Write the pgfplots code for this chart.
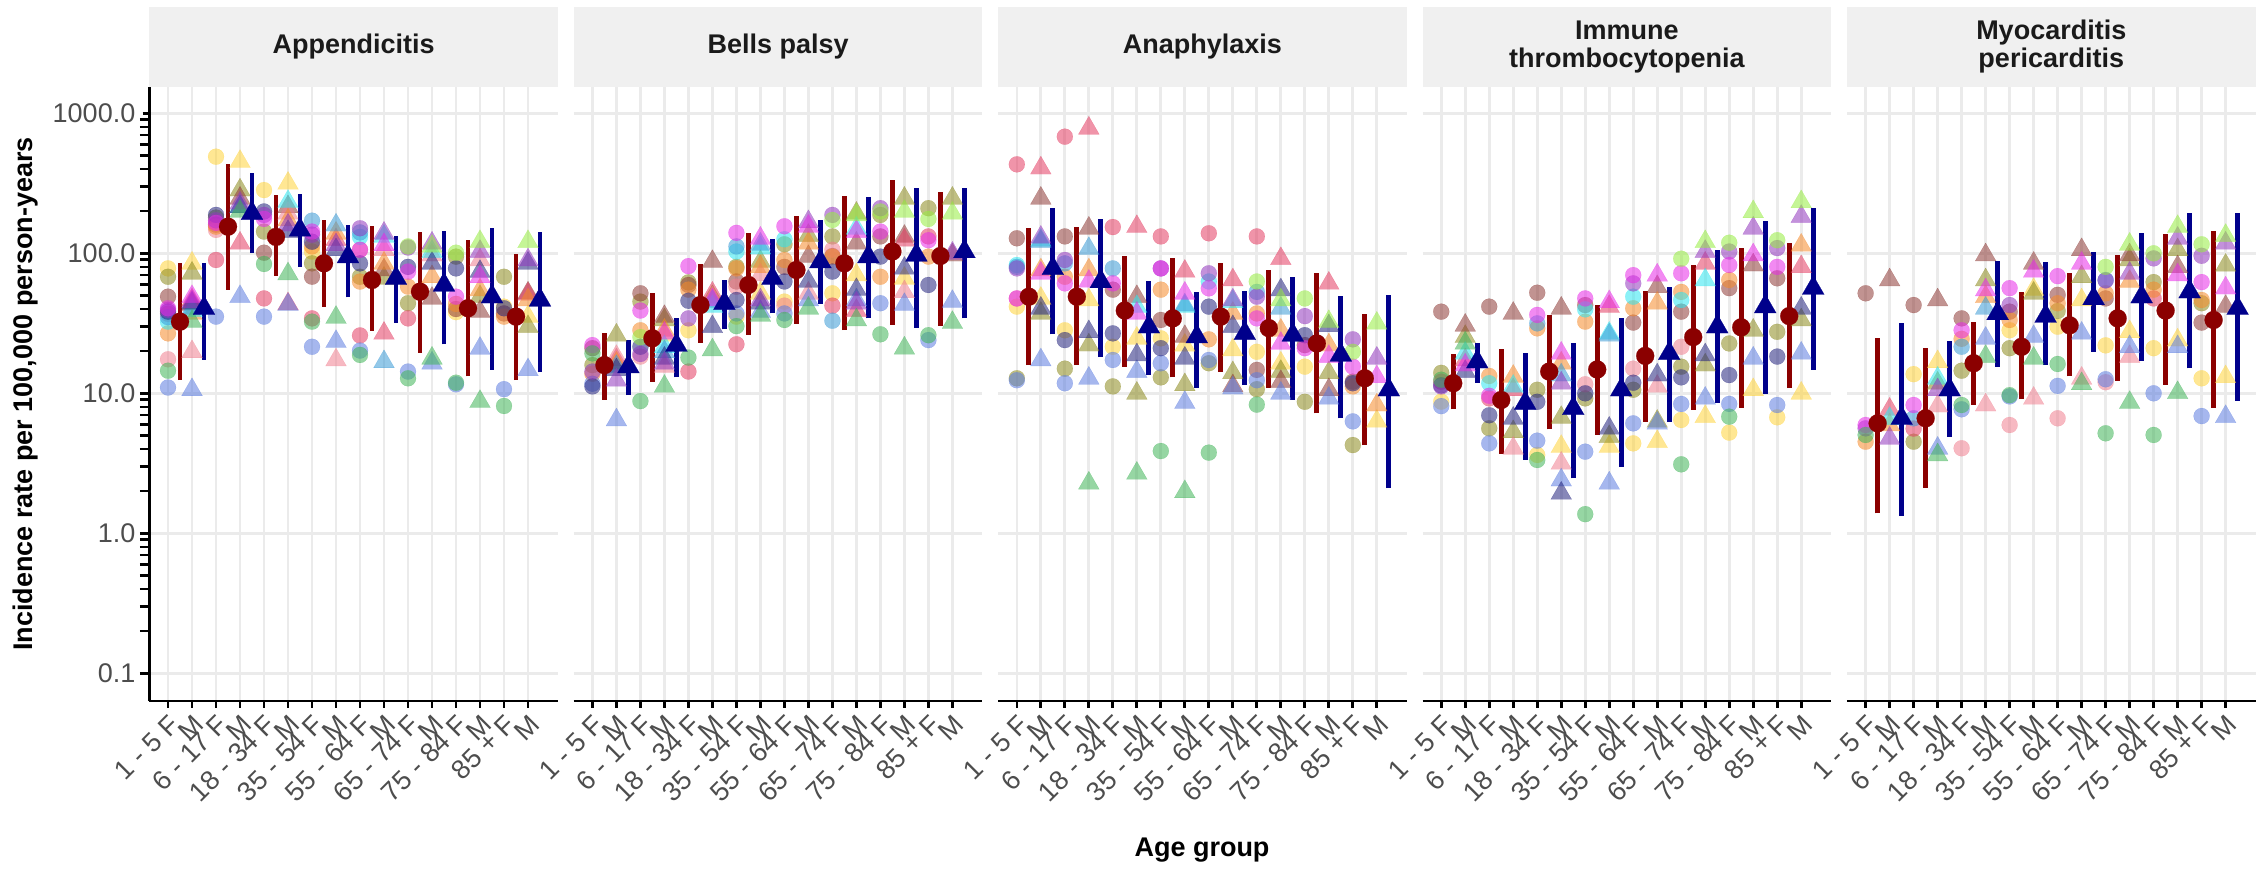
\documentclass[border=0pt]{standalone}
\usepackage{fontspec}
\setmainfont{Liberation Sans}
\usepackage{pgfplots}
\usepackage{pgfplotstable}
\pgfplotsset{compat=1.18}

\definecolor{cY}{HTML}{FFD33A}
\definecolor{cO}{HTML}{8C8A1E}
\definecolor{cB}{HTML}{8E3A36}
\definecolor{cC}{HTML}{E43C62}
\definecolor{cP}{HTML}{F08090}
\definecolor{cR}{HTML}{F58A2A}
\definecolor{cCy}{HTML}{2EE6F0}
\definecolor{cS}{HTML}{3A9AD6}
\definecolor{cK}{HTML}{5C7CE0}
\definecolor{cN}{HTML}{24247E}
\definecolor{cU}{HTML}{9236BE}
\definecolor{cM}{HTML}{E82AE8}
\definecolor{cG}{HTML}{40B458}
\definecolor{cL}{HTML}{96EC40}
\definecolor{gridc}{HTML}{EBEBEB}
\definecolor{stripc}{HTML}{F0F0F0}
\definecolor{tickc}{HTML}{4D4D4D}
\definecolor{striptxt}{HTML}{1A1A1A}
\definecolor{poolF}{HTML}{8B0000}
\definecolor{poolM}{HTML}{00008B}

% ---------- Appendicitis ----------
\pgfplotstableread{
x  Y    O    B    C    P    R    Cy   S    K    N    U    M    G    L
0  78   68   49   37   17.5 26.8 32.5 35   11   38.3 39.4 40.5 14.5 nan
2  490  180  160  89.6 147  155  nan  nan  35.3 188  172  165  nan  nan
4  283  143  101  47.6 nan  nan  nan  nan  35.3 199  188  176  83.9 nan
6  103  84.8 68.1 34.3 nan  112  nan  171  21.5 121  136  143  32.5 nan
8  nan  68   nan  25.9 106  62.8 131  141  20.2 84.8 151  106  18.8 nan
10 nan  44   nan  34.3 nan  57.8 nan  nan  14.3 80   110  74   12.8 112
12 38   94.7 40   nan  nan  43.5 nan  nan  11.6 78   nan  49   11.9 101
14 41.6 68   37.2 nan  nan  35.3 nan  nan  10.7 40.5 nan  nan  8.12 nan
}\tAF
\pgfplotstableread{
x  Y    O    B    C    P    R    Cy   S    K    N    U    M    G    L
1  84.8 72   43   46.4 19.8 37.2 39   40.5 10.6 44   45   49   32.5 nan
3  452  283  247  118  nan  nan  215  nan  49   215  228  nan  199  nan
5  316  nan  215  43.5 193  173  234  nan  43   143  159  nan  71.2 nan
7  nan  nan  nan  125  17.3 139  nan  159  23.4 106  115  nan  34.8 nan
9  nan  66.3 76   26.8 106  84.8 132  16.8 nan  nan  139  115  nan  nan
11 nan  nan  47.6 nan  97   68   103  nan  16.4 84.8 118  nan  17.8 112
13 nan  49   38.3 nan  89.6 54.7 nan  nan  20.9 74   103  68   8.72 121
15 35.3 29.9 52   51   nan  46.4 nan  nan  14.7 84.8 89.6 nan  nan  121
}\tAM
\pgfplotstableread{
xf   yf   xm   ym
0.5  32.5 1.5  40.5
2.5  155  3.5  193
4.5  131  5.5  147
6.5  84.8 7.5  94.7
8.5  64.5 9.5  66.3
10.5 53.2 11.5 59.4
12.5 40.5 13.5 49.0
14.5 35.3 15.5 46.4
}\qA
\pgfplotstableread{
xf   yf   xm   ym
0.5  12.4 1.5  17.3
0.5  84.8 1.5  84.8
nan  nan  nan  nan
2.5  54.7 3.5  101
2.5  435  3.5  377
nan  nan  nan  nan
4.5  68.9 5.5  80.3
4.5  261  5.5  266
nan  nan  nan  nan
6.5  41.6 7.5  48.5
6.5  173  7.5  159
nan  nan  nan  nan
8.5  28.0 9.5  32.0
8.5  157  9.5  133
nan  nan  nan  nan
10.5 19.5 11.5 22.4
10.5 143  11.5 144
nan  nan  nan  nan
12.5 13.2 13.5 14.7
12.5 125  13.5 152
nan  nan  nan  nan
14.5 12.4 15.5 14.1
14.5 98.9 15.5 143
}\sA

% ---------- Bells palsy ----------
\pgfplotstableread{
x  Y    O    B    C    P    R    Cy   S    K    N    U    M    G    L
0  nan  15.9 21   nan  nan  13.8 nan  nan  11.7 11.2 14.3 22.1 19.3 nan
2  nan  45.2 51.8 nan  18.3 28.2 nan  nan  nan  21.5 19.1 39   8.8  25.2
4  28.2 62   59.4 14.3 nan  55   nan  nan  nan  45.8 34.3 81   18   nan
6  35.3 80   62.9 22.4 57.8 78   103  112  37.2 46.4 nan  140  30.2 nan
8  45.2 116  80   nan  42.3 89.6 126  nan  37.2 62.9 nan  156  33.4 nan
10 51.8 132  95.7 42.3 106  94.7 nan  33   nan  74   188  nan  nan  173
12 nan  188  132  nan  nan  68   nan  nan  44   94.7 210  143  26.4 199
14 nan  210  nan  132  nan  94.7 nan  nan  24   59.4 nan  124  26   176
}\tBF
\pgfplotstableread{
x  Y    O    B    C    P    R    Cy   S    K    N    U    M    G    L
1  nan  26   nan  17.3 18.3 16.4 nan  15.5 6.45 14.7 12.4 nan  nan  nan
3  26   33.4 35.3 nan  15.5 28.2 21.5 19.8 nan  17.8 16.4 26.8 11.2 nan
5  nan  49   87.2 51.8 47.7 nan  41.6 45.2 nan  29.9 nan  46.4 20.4 nan
7  51.8 87.2 nan  nan  70   80   109  116  38.3 44   46.4 128  36   nan
9  nan  134  94.7 nan  51.8 118  nan  nan  46.4 62.9 168  156  40.5 nan
11 70   193  118  39   nan  nan  151  nan  46.4 55   44   143  33.4 188
13 66.3 247  132  124  53   nan  nan  nan  43   78   nan  nan  21   199
15 nan  247  97   nan  nan  nan  nan  nan  45.2 nan  100  nan  32   193
}\tBM
\pgfplotstableread{
xf   yf   xm   ym
0.5  15.9 1.5  15.5
2.5  24.7 3.5  22.1
4.5  42.7 5.5  44.0
6.5  59.4 7.5  66.3
8.5  76.0 9.5  87.2
10.5 84.8 11.5 94.7
12.5 103  13.5 97.3
14.5 95.7 15.5 103
}\qB
\pgfplotstableread{
xf   yf   xm   ym
0.5  8.96 1.5  9.72
0.5  26.8 1.5  24.0
nan  nan  nan  nan
2.5  12.1 3.5  13.0
2.5  51.8 3.5  34.3
nan  nan  nan  nan
4.5  23.0 5.5  28.6
4.5  83.9 5.5  64.5
nan  nan  nan  nan
6.5  26.1 7.5  37.3
6.5  139  7.5  126
nan  nan  nan  nan
8.5  31.3 9.5  43.5
8.5  185  9.5  173
nan  nan  nan  nan
10.5 28.3 11.5 34.3
10.5 257  11.5 251
nan  nan  nan  nan
12.5 30.8 13.5 29.4
12.5 334  13.5 291
nan  nan  nan  nan
14.5 30.4 15.5 34.3
14.5 275  15.5 291
}\sB

% ---------- Anaphylaxis ----------
\pgfplotstableread{
x  Y    O    B    C    P    R    Cy   S    K    N    U    M    G    L
0  41.6 12.8 128  432  47.6 nan  82.5 80   12.4 nan  78   47.6 nan  nan
2  28.2 15   132  681  nan  68   nan  84.8 11.8 24   89.6 61   nan  nan
4  21.5 11.2 55   154  nan  nan  nan  78   17.3 26.8 nan  61   nan  nan
6  24.7 13   33.4 132  nan  55   nan  nan  16.4 21   78   78   3.87 nan
8  nan  16.4 nan  139  nan  24.3 62.9 nan  17.3 41.6 72   56.2 3.77 nan
10 19.8 10.7 14.7 132  nan  37.2 nan  53   12.4 nan  49   34.3 8.3  62.9
12 15.5 8.7  22.1 nan  nan  nan  nan  nan  nan  26   35.6 21   nan  47.6
14 nan  4.27 12.1 nan  nan  11.2 nan  nan  6.3  11.8 24.3 15.5 nan  19.8
}\tCF
\pgfplotstableread{
x  Y    O    B    C    P    R    Cy   S    K    N    U    M    G    L
1  47.6 37.2 247  406  nan  76   124  121  17.3 40.5 130  72   nan  nan
3  46.4 22.1 151  782  nan  76   nan  108  12.8 27.5 nan  63   2.28 nan
5  24.7 10   49   155  nan  nan  41.6 nan  14.3 18.8 nan  37.2 2.68 nan
7  22   11.5 25.4 74.3 nan  nan  41.6 42.7 8.58 17.8 nan  51.8 1.98 nan
9  20.4 14   11.3 64.5 nan  37.2 45   nan  10.9 29.9 46.4 nan  nan  nan
11 16.4 14.3 12.1 91.5 nan  28.2 nan  40.5 10   54.7 nan  22.7 nan  46.4
13 nan  14   10.6 61   nan  22.1 nan  nan  9.2  30.3 nan  18.3 nan  32.5
15 6.3  nan  nan  nan  nan  8.25 nan  nan  nan  nan  17.8 13.1 nan  31.6
}\tCM
\pgfplotstableread{
xf   yf   xm   ym
0.5  49.0 1.5  78
2.5  49   3.5  62.9
4.5  39   5.5  29.9
6.5  34.3 7.5  25.4
8.5  35.3 9.5  26.8
10.5 29.2 11.5 26.1
12.5 22.7 13.5 18.8
14.5 12.8 15.5 10.6
}\qC
\pgfplotstableread{
xf   yf   xm   ym
0.5  15.9 1.5  26.4
0.5  151  1.5  210
nan  nan  nan  nan
2.5  15.9 3.5  18.1
2.5  154  3.5  176
nan  nan  nan  nan
4.5  15.5 5.5  13.5
4.5  95.7 5.5  62.9
nan  nan  nan  nan
6.5  13.0 7.5  10.9
6.5  92.1 7.5  52.9
nan  nan  nan  nan
8.5  14.3 9.5  11.5
8.5  84.8 9.5  54.1
nan  nan  nan  nan
10.5 10.9 11.5 8.96
10.5 76   11.5 67.4
nan  nan  nan  nan
12.5 7.2  13.5 6.63
12.5 72.8 13.5 49.6
nan  nan  nan  nan
14.5 4.27 15.5 2.1
14.5 36.9 15.5 50.4
}\sC

% ---------- Immune thrombocytopenia ----------
\pgfplotstableread{
x  Y    O    B    C    P    R    Cy   S    K    N    U    M    G    L
0  8.72 14   38.3 12.1 nan  nan  nan  nan  8.1  11.4 11.2 nan  12.5 nan
2  nan  5.62 41.6 9.2  nan  13.3 11.8 nan  4.39 6.97 nan  9.6  nan  nan
4  3.63 10.6 52.3 nan  nan  29.1 nan  31.6 4.59 8.7  nan  36.3 3.34 nan
6  nan  9.2  42.7 nan  11.6 32.5 39.8 nan  3.83 10   nan  47.6 1.37 nan
8  4.39 10.6 32   nan  15   40.5 49   nan  6.1  11.9 61   69.8 nan  nan
10 6.45 15.5 38.3 nan  21.5 53   46.4 nan  8.39 13   nan  72   3.11 91.5
12 5.24 22.7 56.4 nan  nan  64.5 nan  nan  8.4  13.5 103  82.5 6.81 119
14 6.74 27.5 66.3 nan  nan  nan  nan  nan  8.25 18.3 109  80   nan  124
}\tDF
\pgfplotstableread{
x  Y    O    B    C    P    R    Cy   S    K    N    U    M    G    L
1  nan  25.4 30.6 17.3 nan  nan  19.3 nan  nan  14.3 nan  15.9 22.8 nan
3  nan  5.31 37.2 10.6 4.05 13.2 11.2 nan  nan  6.63 nan  nan  nan  nan
5  4.16 6.7  40.5 nan  3.16 16.4 nan  13.5 2.4  1.93 11.8 19.3 nan  nan
7  4.16 4.9  nan  41.6 nan  nan  26.8 26   2.28 5.62 nan  45   nan  nan
9  4.51 6.3  57.6 nan  11.2 44   nan  nan  6.1  13.5 nan  69.8 nan  nan
11 6.81 15.9 nan  84.8 nan  nan  64.5 nan  9.2  18.8 103  nan  nan  121
13 10.6 28.2 82.5 nan  nan  nan  nan  nan  17.8 nan  151  97.3 nan  198
15 10   33.4 nan  80   nan  114  nan  nan  19.3 40.5 183  nan  nan  233
}\tDM
\pgfplotstableread{
xf   yf   xm   ym
0.5  11.8 1.5  16.8
2.5  8.96 3.5  8.5
4.5  14.3 5.5  7.8
6.5  14.8 7.5  10.6
8.5  18.5 9.5  19.3
10.5 25.2 11.5 29.9
12.5 29.6 13.5 41.6
14.5 35.6 15.5 56.4
}\qD
\pgfplotstableread{
xf   yf   xm   ym
0.5  7.69 1.5  11.9
0.5  19.1 1.5  22.8
nan  nan  nan  nan
2.5  3.69 3.5  3.34
2.5  20.6 3.5  19.3
nan  nan  nan  nan
4.5  5.53 5.5  2.47
4.5  36.3 5.5  23
nan  nan  nan  nan
6.5  5.04 7.5  2.99
6.5  42.7 7.5  34.3
nan  nan  nan  nan
8.5  6.28 9.5  6.28
8.5  53.8 9.5  57.2
nan  nan  nan  nan
10.5 7.6  11.5 8.5
10.5 82.5 11.5 106
nan  nan  nan  nan
12.5 7.9  13.5 9.9
12.5 110  13.5 170
nan  nan  nan  nan
14.5 10.9 15.5 14.7
14.5 118  15.5 210
}\sD

% ---------- Myocarditis pericarditis ----------
\pgfplotstableread{
x  Y    O    B    C    P    R    Cy   S    K    N    U    M    G    L
0  nan  nan  51.8 nan  nan  4.51 nan  nan  nan  nan  5.62 5.94 5.04 nan
2  13.7 4.51 42.7 5.6  nan  nan  nan  6.63 nan  nan  nan  8.25 nan  nan
4  nan  14.5 34.3 nan  4.05 24.5 nan  21.5 7.69 nan  nan  28.2 8.25 nan
6  28.2 21   38.3 nan  5.94 33.4 nan  nan  9.5  nan  42.7 56.4 9.7  nan
8  29.9 38.7 50.5 nan  6.63 44   nan  nan  11.3 nan  nan  68.7 16.2 nan
10 22   nan  47.6 nan  12   51.8 nan  64.5 12.6 nan  64   nan  5.18 80
12 21   62.3 nan  47.6 nan  55   nan  nan  10   nan  92   nan  5.04 100
14 12.8 44   32   nan  nan  46.4 nan  nan  6.88 nan  96   62.3 nan  116
}\tEF
\pgfplotstableread{
x  Y    O    B    C    P    R    Cy   S    K    N    U    M    G    L
1  nan  nan  64.5 7.69 nan  5.94 6.6  nan  nan  nan  4.77 nan  nan  nan
3  16.8 11.8 46.4 nan  8.1  nan  12.8 nan  4.05 nan  10.6 nan  3.63 nan
5  nan  64.5 97.3 nan  8.25 49   nan  40.5 24.7 nan  nan  54.7 18.3 nan
7  55   51.8 84.8 nan  9.2  nan  nan  nan  25.4 nan  nan  74.3 17.8 nan
9  46.4 68   106  nan  12.8 nan  nan  nan  26.8 nan  nan  84.8 11.7 nan
11 27.5 89.6 97.3 nan  18.3 62.8 nan  nan  21.5 nan  72   nan  8.58 116
13 24   106  80   nan  nan  nan  nan  nan  21.5 nan  128  70   10.1 155
15 13.1 82   41.6 nan  nan  nan  nan  nan  6.81 nan  118  56.4 nan  134
}\tEM
\pgfplotstableread{
xf   yf   xm   ym
0.5  6.1  1.5  6.63
2.5  6.63 3.5  10.6
4.5  16.4 5.5  37.2
6.5  21.5 7.5  35.6
8.5  30.6 9.5  47.6
10.5 34.3 11.5 49
12.5 39   13.5 53.2
14.5 33.4 15.5 40.5
}\qE
\pgfplotstableread{
xf   yf   xm   ym
0.5  1.39 1.5  1.33
0.5  24.7 1.5  32
nan  nan  nan  nan
2.5  2.12 3.5  4.9
2.5  21.2 3.5  23.6
nan  nan  nan  nan
4.5  8.26 5.5  15.5
4.5  32.5 5.5  88.2
nan  nan  nan  nan
6.5  9.1  7.5  15.9
6.5  52.6 7.5  86.3
nan  nan  nan  nan
8.5  13.2 9.5  19.8
8.5  72   9.5  102
nan  nan  nan  nan
10.5 12.3 11.5 17.1
10.5 97.3 11.5 139
nan  nan  nan  nan
12.5 11.5 13.5 15.1
12.5 137  13.5 193
nan  nan  nan  nan
14.5 7.9  15.5 8.82
14.5 144  15.5 193
}\sE

\newcommand\pts[2]{%
 \pgfplotsinvokeforeach{Y,O,B,C,P,R,Cy,S,K,N,U,M,G,L}{%
  \addplot[only marks, mark=*, mark size=2.4pt, color=c##1, opacity=0.55, mark options={line width=0.05pt}] table[x=x, y=##1]{#1};
  \addplot[only marks, mark=triangle*, mark size=3.6pt, color=c##1, opacity=0.55, mark options={line width=0.05pt}] table[x=x, y=##1]{#2};
 }%
}
\newcommand\pooled[2]{%
 \addplot[draw=poolF, line width=1.4pt, mark=none] table[x=xf, y=yf]{#2};
 \addplot[draw=poolM, line width=1.4pt, mark=none] table[x=xm, y=ym]{#2};
 \addplot[only marks, mark=*, mark size=2.7pt, color=poolF, mark options={line width=0.05pt}] table[x=xf, y=yf]{#1};
 \addplot[only marks, mark=triangle*, mark size=3.8pt, color=poolM, mark options={line width=0.05pt}] table[x=xm, y=ym]{#1};
}

\tikzset{striplab/.style={font=\bfseries\fontsize{8.1}{8.4}\selectfont, text=striptxt, align=center}}

\begin{document}
\begin{tikzpicture}
\path[use as bounding box] (0,0) rectangle (679.5pt,260.4pt);

\begin{axis}[ymode=log, ymin=0.0634, ymax=1549, xmin=-0.78, xmax=16.25,
  scale only axis, width=122.61pt, height=184.29pt,
  anchor=south west, at={(44.79pt,50.1pt)}, name=ax1,
  unbounded coords=jump,
  axis x line*=bottom, axis y line*=left,
  axis line style={-, line width=0.8pt, black},
  xtick={0,...,15},
  xticklabels={1 - 5 F,M,6 - 17 F,M,18 - 34 F,M,35 - 54 F,M,55 - 64 F,M,65 - 74 F,M,75 - 84 F,M,85 + F,M},
  ytick={0.1,1,10,100,1000},
  yticklabels={0.1,1.0,10.0,100.0,1000.0},
  minor y tick num=0,
  grid=major, grid style={draw=gridc, line width=0.8pt},
  tick align=outside, major tick length=2pt,
  tick style={draw=black, line width=0.8pt},
  tick label style={font=\fontsize{8.1}{9.7}\selectfont, text=tickc},
  xticklabel style={rotate=45, anchor=north east, inner sep=1pt},
  yticklabel style={inner sep=2pt}]
\pts{\tAF}{\tAM}
\pooled{\qA}{\sA}
\end{axis}

\begin{axis}[ymode=log, ymin=0.0634, ymax=1549, xmin=-0.78, xmax=16.25,
  scale only axis, width=122.61pt, height=184.29pt,
  anchor=south west, at={(172.11pt,50.1pt)}, name=ax2,
  unbounded coords=jump,
  axis x line*=bottom, axis y line*=left,
  axis line style={-, line width=0.8pt, black},
  y axis line style={draw=none},
  xtick={0,...,15},
  xticklabels={1 - 5 F,M,6 - 17 F,M,18 - 34 F,M,35 - 54 F,M,55 - 64 F,M,65 - 74 F,M,75 - 84 F,M,85 + F,M},
  ytick={0.1,1,10,100,1000},
  yticklabels={},
  minor y tick num=0,
  grid=major, grid style={draw=gridc, line width=0.8pt},
  tick align=outside, major tick length=2pt,
  tick style={draw=black, line width=0.8pt},
  ytick style={draw=none},
  tick label style={font=\fontsize{8.1}{9.7}\selectfont, text=tickc},
  xticklabel style={rotate=45, anchor=north east, inner sep=1pt}]
\pts{\tBF}{\tBM}
\pooled{\qB}{\sB}
\end{axis}

\begin{axis}[ymode=log, ymin=0.0634, ymax=1549, xmin=-0.78, xmax=16.25,
  scale only axis, width=122.61pt, height=184.29pt,
  anchor=south west, at={(299.43pt,50.1pt)}, name=ax3,
  unbounded coords=jump,
  axis x line*=bottom, axis y line*=left,
  axis line style={-, line width=0.8pt, black},
  y axis line style={draw=none},
  xtick={0,...,15},
  xticklabels={1 - 5 F,M,6 - 17 F,M,18 - 34 F,M,35 - 54 F,M,55 - 64 F,M,65 - 74 F,M,75 - 84 F,M,85 + F,M},
  ytick={0.1,1,10,100,1000},
  yticklabels={},
  minor y tick num=0,
  grid=major, grid style={draw=gridc, line width=0.8pt},
  tick align=outside, major tick length=2pt,
  tick style={draw=black, line width=0.8pt},
  ytick style={draw=none},
  tick label style={font=\fontsize{8.1}{9.7}\selectfont, text=tickc},
  xticklabel style={rotate=45, anchor=north east, inner sep=1pt}]
\pts{\tCF}{\tCM}
\pooled{\qC}{\sC}
\end{axis}

\begin{axis}[ymode=log, ymin=0.0634, ymax=1549, xmin=-0.78, xmax=16.25,
  scale only axis, width=122.61pt, height=184.29pt,
  anchor=south west, at={(426.75pt,50.1pt)}, name=ax4,
  unbounded coords=jump,
  axis x line*=bottom, axis y line*=left,
  axis line style={-, line width=0.8pt, black},
  y axis line style={draw=none},
  xtick={0,...,15},
  xticklabels={1 - 5 F,M,6 - 17 F,M,18 - 34 F,M,35 - 54 F,M,55 - 64 F,M,65 - 74 F,M,75 - 84 F,M,85 + F,M},
  ytick={0.1,1,10,100,1000},
  yticklabels={},
  minor y tick num=0,
  grid=major, grid style={draw=gridc, line width=0.8pt},
  tick align=outside, major tick length=2pt,
  tick style={draw=black, line width=0.8pt},
  ytick style={draw=none},
  tick label style={font=\fontsize{8.1}{9.7}\selectfont, text=tickc},
  xticklabel style={rotate=45, anchor=north east, inner sep=1pt}]
\pts{\tDF}{\tDM}
\pooled{\qD}{\sD}
\end{axis}

\begin{axis}[ymode=log, ymin=0.0634, ymax=1549, xmin=-0.78, xmax=16.25,
  scale only axis, width=122.61pt, height=184.29pt,
  anchor=south west, at={(554.07pt,50.1pt)}, name=ax5,
  unbounded coords=jump,
  axis x line*=bottom, axis y line*=left,
  axis line style={-, line width=0.8pt, black},
  y axis line style={draw=none},
  xtick={0,...,15},
  xticklabels={1 - 5 F,M,6 - 17 F,M,18 - 34 F,M,35 - 54 F,M,55 - 64 F,M,65 - 74 F,M,75 - 84 F,M,85 + F,M},
  ytick={0.1,1,10,100,1000},
  yticklabels={},
  minor y tick num=0,
  grid=major, grid style={draw=gridc, line width=0.8pt},
  tick align=outside, major tick length=2pt,
  tick style={draw=black, line width=0.8pt},
  ytick style={draw=none},
  tick label style={font=\fontsize{8.1}{9.7}\selectfont, text=tickc},
  xticklabel style={rotate=45, anchor=north east, inner sep=1pt}]
\pts{\tEF}{\tEM}
\pooled{\qE}{\sE}
\end{axis}

\fill[stripc] (ax1.north west) rectangle ([yshift=24pt]ax1.north east);
\fill[stripc] (ax2.north west) rectangle ([yshift=24pt]ax2.north east);
\fill[stripc] (ax3.north west) rectangle ([yshift=24pt]ax3.north east);
\fill[stripc] (ax4.north west) rectangle ([yshift=24pt]ax4.north east);
\fill[stripc] (ax5.north west) rectangle ([yshift=24pt]ax5.north east);
\node[striplab] at ([yshift=12pt]ax1.north) {Appendicitis};
\node[striplab] at ([yshift=12pt]ax2.north) {Bells palsy};
\node[striplab] at ([yshift=12pt]ax3.north) {Anaphylaxis};
\node[striplab] at ([yshift=12pt]ax4.north) {Immune\\thrombocytopenia};
\node[striplab] at ([yshift=12pt]ax5.north) {Myocarditis\\pericarditis};

\node[rotate=90, font=\bfseries\fontsize{8.1}{9.7}\selectfont, text=black] at (7.8pt,142.2pt) {Incidence rate per 100,000 person-years};
\node[font=\bfseries\fontsize{8.1}{9.7}\selectfont, text=black] at (360.6pt,5.4pt) {Age group};
\end{tikzpicture}
\end{document}
